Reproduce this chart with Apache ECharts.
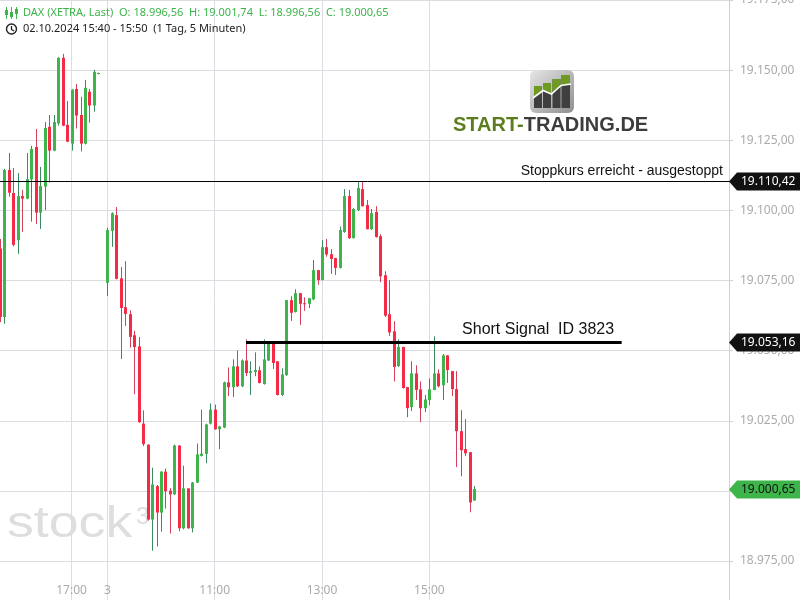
<!DOCTYPE html>
<html><head><meta charset="utf-8">
<script src="https://cdn.jsdelivr.net/npm/echarts@6.0.0/dist/echarts.min.js"></script>
<style>html,body{margin:0;padding:0;background:#fff}#c{width:800px;height:600px}</style>
</head><body><div id="c"></div>
<script>
// ---- data (5-minute candles, DAX XETRA) ----
const day1Start = '15:40', day1Count = 23;   // 15:40 .. 17:30 (day 1)
const day2Start = '09:00';                    // day 2 starts after one empty slot
const totalSlots = 164;

const opens  = [19086.4,19062.0,19114.4,19106.2,19089.4,19105.1,19104.2,19111.0,19122.6,19099.2,19108.5,19129.8,19121.3,19131.0,19154.4,19130.5,19123.8,19143.3,19134.0,19123.8,19142.3,19137.4,19148.6,
  null,
  19074.2,19092.7,19098.3,19075.8,19065.5,19063.0,19055.5,19051.5,19024.0,19016.5,18989.8,19001.7,18992.3,19006.9,19000.1,18998.8,19016.2,18986.7,19000.9,18986.7,19003.0,19012.5,19013.2,19024.0,19029.0,19022.0,
  19022.6,19038.7,19037.0,19044.4,19037.3,19046.5,19042.0,19042.4,19043.0,19038.1,19046.5,19052.6,19046.2,19034.2,19041.3,19068.0,19063.8,19070.5,19066.9,19066.7,19068.3,19078.7,19075.2,19086.9,19084.4,
  19083.0,19079.5,19092.3,19105.1,19090.1,19100.1,19107.6,19101.9,19093.3,19099.4,19090.8,19076.9,19063.0,19056.9,19044.5,19051.3,19037.0,19029.9,19041.9,19036.2,19029.5,19032.4,19036.0,19041.9,19037.7,
  19048.3,19042.7,19036.3,19021.3,19014.9,19013.8,18996.56];
const closes = [19062.0,19114.4,19106.3,19087.7,19105.1,19104.2,19111.2,19121.9,19099.2,19108.7,19129.4,19121.3,19131.5,19154.4,19130.2,19124.5,19143.0,19133.8,19123.8,19143.7,19137.4,19149.4,19149.0,
  null,
  19093.0,19099.0,19075.6,19065.2,19063.1,19054.9,19051.3,19024.5,19016.7,18989.8,19002.3,18992.3,19006.9,18999.9,18998.8,19016.2,18986.7,19000.9,18986.7,19003.0,19013.0,19013.3,19023.7,19029.0,19022.0,19023.0,
  19038.7,19037.0,19044.4,19037.3,19046.5,19042.0,19042.7,19043.1,19038.5,19046.9,19052.6,19045.6,19034.2,19041.5,19068.0,19063.5,19070.5,19066.7,19066.7,19068.7,19078.7,19075.2,19086.9,19084.3,19082.7,
  19079.5,19093.0,19105.1,19090.1,19100.5,19108.0,19101.5,19093.3,19099.0,19090.5,19076.5,19062.5,19056.5,19044.2,19051.3,19036.7,19029.5,19041.9,19036.0,19029.5,19032.6,19036.2,19041.9,19037.3,19048.3,
  19043.1,19036.3,19021.3,19014.5,19013.4,18995.9,19000.65];
const lows   = [19060.2,19059.6,19104.9,19087.2,19084.5,19092.4,19104.0,19096.0,19095.2,19093.4,19100.1,19109.9,19121.1,19130.2,19130.0,19124.3,19121.3,19129.2,19121.0,19123.5,19131.3,19135.2,19148.5,
  null,
  19069.5,19087.0,19075.4,19047.0,19058.8,19051.1,19034.5,19024.3,19016.0,18989.4,18978.7,18980.2,18985.5,18993.7,18984.8,18998.5,18985.6,18986.3,18986.5,18985.2,19002.8,19012.3,19009.9,19023.7,19021.8,19014.9,
  19022.4,19033.8,19033.5,19037.0,19037.0,19040.9,19034.2,19040.9,19038.3,19037.9,19046.3,19043.5,19034.0,19033.8,19041.0,19060.6,19063.6,19059.2,19064.2,19065.2,19068.0,19073.5,19075.0,19083.5,19077.4,
  19077.0,19079.3,19092.0,19089.8,19090.0,19099.8,19101.4,19093.2,19093.0,19090.3,19074.4,19062.0,19055.2,19039.0,19044.2,19036.5,19026.3,19028.5,19032.4,19024.5,19028.1,19030.6,19035.9,19036.9,19032.4,
  19038.5,19033.8,19008.5,19005.2,19012.4,18992.4,18996.56];
const highs  = [19089.8,19114.8,19120.5,19115.1,19113.3,19107.3,19120.5,19123.0,19129.0,19115.5,19131.5,19134.0,19134.0,19154.6,19155.8,19139.0,19143.2,19145.1,19140.5,19146.5,19143.3,19150.1,19149.1,
  null,
  19093.8,19099.3,19101.2,19079.8,19081.9,19064.4,19057.1,19054.9,19028.7,19016.6,19008.3,19002.1,19007.0,19008.0,19001.0,19016.5,19016.3,19009.0,19001.0,19003.2,19016.9,19029.0,19024.0,19031.2,19030.8,19023.2,
  19039.0,19044.0,19046.9,19050.1,19046.9,19054.0,19046.2,19049.4,19044.4,19054.0,19053.0,19053.0,19046.3,19043.7,19068.1,19069.4,19071.9,19070.6,19069.0,19068.8,19082.3,19078.8,19089.4,19089.8,19086.2,
  19083.1,19094.2,19107.6,19107.3,19100.8,19110.5,19110.1,19103.7,19100.5,19101.5,19091.5,19078.3,19075.1,19060.5,19054.0,19051.4,19037.1,19046.2,19044.8,19039.0,19034.2,19040.1,19055.1,19043.3,19048.8,
  19048.4,19042.8,19042.7,19028.8,19025.6,19013.9,19001.74];

const xTickIdx  = [16, 24, 48, 72, 96];
const xTickText = ['17:00', '3', '11:00', '13:00', '15:00'];

const stopLevel = 19110.42;
const stopText = 'Stoppkurs erreicht - ausgestoppt';
const signalLevel = 19053.16;
const signalText = 'Short Signal  ID 3823';
const signalFrom = 55, signalTo = 139;   // category slots spanned by the signal line

// ---- helpers ----
function de(v){ const s = v.toFixed(2).split('.'); return s[0].replace(/\B(?=(\d{3})+(?!\d))/g,'.') + ',' + s[1]; }
function addMin(t, m){ const [h, mm] = t.split(':').map(Number); const tot = h*60 + mm + m; return String(Math.floor(tot/60)).padStart(2,'0') + ':' + String(tot%60).padStart(2,'0'); }
const categories = [];
for (let i = 0; i < day1Count; i++) categories.push('02.10. ' + addMin(day1Start, 5*i));
categories.push(' ');
for (let i = 0; categories.length < totalSlots; i++) categories.push('03.10. ' + addMin(day2Start, 5*i));

const rows = [];
opens.forEach((o, i) => { if (o !== null) rows.push([i, o, closes[i], lows[i], highs[i]]); });

const UP = '#3db54a', DOWN = '#f32b47', WICK_UP = '#3a8a5f', WICK_DOWN = '#d2405c';
const GRID = '#dcdce3', LABEL = '#ababab';

const chart = echarts.init(document.getElementById('c'), null, {renderer: 'canvas'});
const option = {
  animation: false,
  backgroundColor: '#fff',
  grid: {left: 0, right: 71, top: 0, height: 631.2, containLabel: false, outerBoundsMode: 'none'},
  xAxis: {
    type: 'category', data: categories, boundaryGap: false,
    axisLine: {show: false}, axisTick: {show: false},
    axisLabel: {inside: true, margin: 35, color: LABEL, fontSize: 12, fontFamily: 'Noto Sans',
      interval: (i) => xTickIdx.includes(i),
      formatter: (v, i) => xTickText[xTickIdx.indexOf(i)] || ''},
    splitLine: {show: true, interval: (i) => xTickIdx.includes(i), lineStyle: {color: GRID, width: 1}}
  },
  yAxis: {
    type: 'value', position: 'right', min: 18950, max: 19175, interval: 25,
    axisLine: {show: true, lineStyle: {color: '#d0d0d6'}},
    axisTick: {show: true, length: 4, lineStyle: {color: '#d0d0d6'}},
    axisLabel: {margin: 11, color: LABEL, fontSize: 12, fontFamily: 'Noto Sans', formatter: (v) => de(v)},
    splitLine: {show: true, lineStyle: {color: GRID, width: 1}}
  },
  series: [{
    type: 'custom', data: rows, encode: {x: 0, y: [1, 2, 3, 4]}, clip: true,
    renderItem: function (params, api) {
      const i = api.value(0), o = api.value(1), c = api.value(2), l = api.value(3), h = api.value(4);
      const pO = api.coord([i, o]), pC = api.coord([i, c]), pL = api.coord([i, l]), pH = api.coord([i, h]);
      const x = Math.round(pO[0]);
      const up = c >= o;
      const top = Math.min(pO[1], pC[1]), bot = Math.max(pO[1], pC[1]);
      return {type: 'group', children: [
        {type: 'line', shape: {x1: x + 0.5, y1: pH[1], x2: x + 0.5, y2: pL[1]}, style: {stroke: up ? WICK_UP : WICK_DOWN, lineWidth: 1}},
        {type: 'rect', shape: {x: x - 1, y: top, width: 3, height: Math.max(1, bot - top)}, style: {fill: up ? UP : DOWN}}
      ]};
    }
  }]
};
chart.setOption(option);

const yPx = v => chart.convertToPixel({yAxisIndex: 0}, v);
const xPx = i => chart.convertToPixel({xAxisIndex: 0}, i);
const last = opens.length - 1;

function tag(value, bg, fg){
  const cy = Math.round(yPx(value)) + 0.5;
  const tip = 729;
  return [
    {type: 'polygon', shape: {points: [[tip, cy], [tip + 8, cy - 9], [800, cy - 9], [800, cy + 9], [tip + 8, cy + 9]]}, style: {fill: bg}, z: 100},
    {type: 'text', x: 741, y: cy, style: {text: de(value), fill: fg, font: '12px "Noto Sans"', verticalAlign: 'middle', align: 'left'}, z: 101}
  ];
}

const yStop = Math.round(yPx(stopLevel)) + 0.5;
const ySig = Math.round(yPx(signalLevel));
const xSig1 = xPx(signalFrom), xSig2 = xPx(signalTo);

const graphics = [
  // header
  {type: 'group', children: [
    {type: 'line', shape: {x1: 6.5, y1: 7, x2: 6.5, y2: 19}, style: {stroke: UP, lineWidth: 1}},
    {type: 'rect', shape: {x: 5, y: 10, width: 3, height: 5}, style: {fill: UP}},
    {type: 'line', shape: {x1: 11.5, y1: 7, x2: 11.5, y2: 19}, style: {stroke: UP, lineWidth: 1}},
    {type: 'rect', shape: {x: 10, y: 12, width: 3, height: 5}, style: {fill: UP}},
    {type: 'line', shape: {x1: 16.5, y1: 7, x2: 16.5, y2: 19}, style: {stroke: UP, lineWidth: 1}},
    {type: 'rect', shape: {x: 15, y: 9, width: 3, height: 5}, style: {fill: UP}},
    {type: 'text', x: 23, y: 13, style: {text: 'DAX (XETRA, Last)  O: ' + de(opens[last]) + '  H: ' + de(highs[last]) + '  L: ' + de(lows[last]) + '  C: ' + de(closes[last]), fill: '#3cb44b', font: '11px "Noto Sans"', verticalAlign: 'middle'}},
    {type: 'circle', shape: {cx: 11.5, cy: 29, r: 5}, style: {fill: 'none', stroke: '#222', lineWidth: 1.4}},
    {type: 'polyline', shape: {points: [[11.5, 26], [11.5, 29.5], [14, 31]]}, style: {fill: 'none', stroke: '#222', lineWidth: 1.3}},
    {type: 'text', x: 23, y: 29, style: {text: '02.10.2024 15:40 - 15:50  (1 Tag, 5 Minuten)', fill: '#222', font: '11px "Noto Sans"', verticalAlign: 'middle'}}
  ]},
  // watermark
  {type: 'text', x: 7, y: 525, scaleX: 1.22, style: {text: 'stock', fill: '#dedede', font: '44px "Liberation Sans"', verticalAlign: 'middle'}, z: -1},
  {type: 'text', x: 136, y: 517, style: {text: '3', fill: '#dedede', font: '24px "Liberation Sans"', verticalAlign: 'middle'}, z: -1},
  // logo
  {type: 'group', children: [
    {type: 'rect', shape: {x: 530, y: 70, width: 44, height: 43, r: 6}, style: {fill: new echarts.graphic.LinearGradient(0, 0, 1, 1, [{offset: 0, color: '#e6e6e6'}, {offset: 1, color: '#8f8f8f'}])}},
    {type: 'rect', shape: {x: 534, y: 86, width: 8, height: 22}, style: {fill: '#3f3f3f'}},
    {type: 'rect', shape: {x: 543, y: 83, width: 8, height: 25}, style: {fill: '#3f3f3f'}},
    {type: 'rect', shape: {x: 552.5, y: 79, width: 8, height: 29}, style: {fill: '#3f3f3f'}},
    {type: 'rect', shape: {x: 561.5, y: 75, width: 8.5, height: 33}, style: {fill: '#3f3f3f'}},
    {type: 'polygon', shape: {points: [[534, 86], [542, 86], [542, 93], [534, 97]]}, style: {fill: '#6f9a22'}},
    {type: 'polygon', shape: {points: [[543, 83], [551, 83], [551, 93], [543, 90]]}, style: {fill: '#6f9a22'}},
    {type: 'polygon', shape: {points: [[552.5, 79], [560.5, 79], [560.5, 86], [552.5, 92]]}, style: {fill: '#6f9a22'}},
    {type: 'polygon', shape: {points: [[561.5, 75], [570, 75], [570, 84], [561.5, 85]]}, style: {fill: '#6f9a22'}},
    {type: 'polyline', shape: {points: [[533, 98], [543, 90.5], [551.5, 94], [561, 85.5], [571, 84]]}, style: {fill: 'none', stroke: '#ffffff', lineWidth: 1.6}},
    {type: 'text', x: 453, y: 125, style: {text: '{g|START-}{d|TRADING.DE}', verticalAlign: 'middle', rich: {
      g: {fill: '#5b7d1e', font: 'bold 20px "Liberation Sans"'},
      d: {fill: '#3d3d3d', font: 'bold 20px "Liberation Sans"'}}}}
  ]},
  // stop line + label
  {type: 'line', shape: {x1: 0, y1: yStop, x2: 735, y2: yStop}, style: {stroke: '#000', lineWidth: 1}, z: 50},
  {type: 'text', x: 723, y: yStop - 10.5, style: {text: stopText, fill: '#111', font: '14px "Liberation Sans"', align: 'right', verticalAlign: 'middle'}, z: 50},
  // short signal line + label
  {type: 'line', shape: {x1: xSig1, y1: ySig + 0.5, x2: xSig2, y2: ySig + 0.5}, style: {stroke: '#000', lineWidth: 3}, z: 50},
  {type: 'text', x: xSig2 - 7.5, y: ySig - 12, style: {text: signalText, fill: '#111', font: '16px "Liberation Sans"', align: 'right', verticalAlign: 'middle'}, z: 50}
].concat(tag(stopLevel, '#111', '#fff'), tag(signalLevel, '#111', '#fff'), tag(closes[last], UP, '#111'));

chart.setOption({graphic: graphics});
</script></body></html>
